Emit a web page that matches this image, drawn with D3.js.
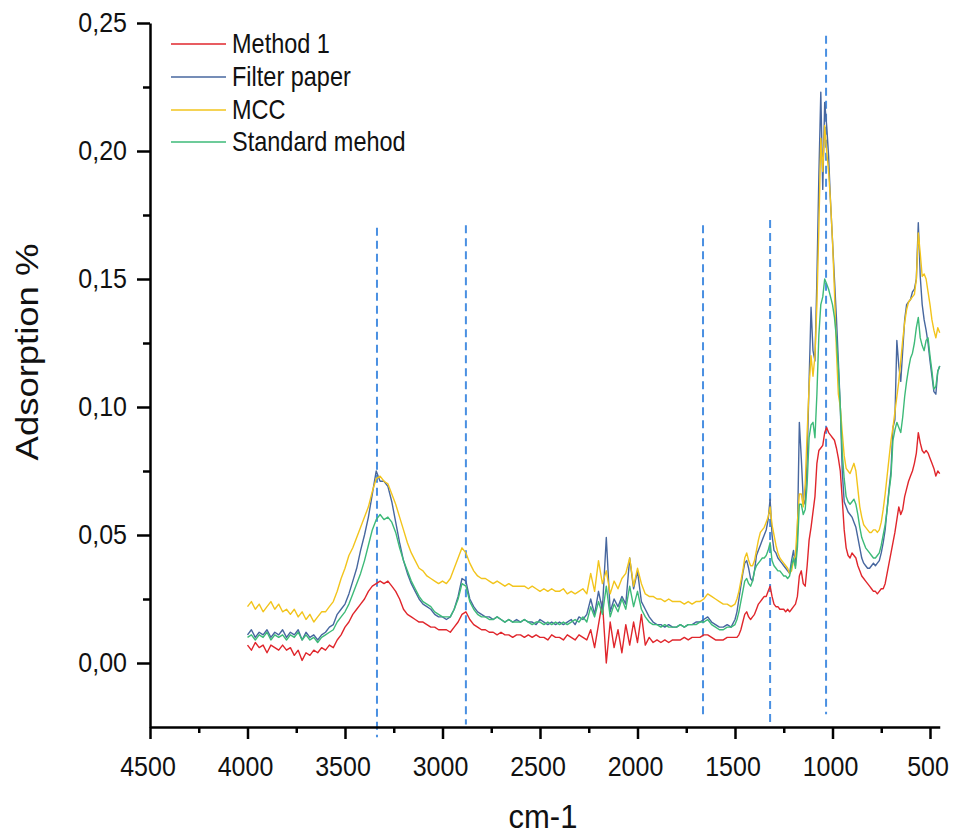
<!DOCTYPE html>
<html>
<head>
<meta charset="utf-8">
<script src="https://cdn.jsdelivr.net/npm/d3@7"></script>
<style>
  html, body { margin: 0; padding: 0; background: #fff; }
  svg { display: block; font-family: "Liberation Sans", Arial, sans-serif; }
</style>
</head>
<body>
<svg id="chart" width="953" height="835"></svg>
<script>
// ---------- DATA ----------
// wavenumber grid (cm-1): 4000..1520 every 20, then 1500..450 every 10
const wavenumbers = [...d3.range(4000, 1500, -20), ...d3.range(1500, 449, -10)];

const seriesNames = ["Method 1", "Filter paper", "MCC", "Standard mehod"];

const method1 = [
  0.007,0.005,0.008,0.006,0.007,0.004,0.007,0.006,0.005,0.007,
  0.005,0.006,0.003,0.005,0.001,0.004,0.003,0.005,0.004,0.006,
  0.005,0.007,0.006,0.009,0.011,0.014,0.016,0.019,0.021,0.023,
  0.025,0.028,0.030,0.031,0.032,0.031,0.032,0.030,0.028,0.025,
  0.021,0.019,0.018,0.017,0.016,0.016,0.015,0.014,0.014,0.013,
  0.013,0.013,0.012,0.014,0.016,0.019,0.020,0.017,0.015,0.014,
  0.013,0.013,0.012,0.012,0.011,0.012,0.011,0.011,0.010,0.011,
  0.011,0.010,0.011,0.010,0.011,0.010,0.010,0.009,0.011,0.010,
  0.010,0.009,0.011,0.010,0.009,0.011,0.010,0.009,0.013,0.006,
  0.015,0.024,0.000,0.016,0.006,0.013,0.004,0.015,0.007,0.016,
  0.008,0.019,0.007,0.010,0.008,0.009,0.008,0.009,0.008,0.009,
  0.009,0.009,0.010,0.009,0.010,0.010,0.010,0.011,0.011,0.010,
  0.009,0.009,0.009,0.010,0.010,
  0.010,0.010,0.011,0.013,0.016,0.019,0.020,0.018,0.017,0.018,
  0.019,0.021,0.023,0.024,0.025,0.026,0.026,0.028,0.030,0.026,
  0.023,0.022,0.022,0.021,0.021,0.021,0.020,0.021,0.020,0.021,
  0.022,0.023,0.026,0.034,0.036,0.031,0.030,0.038,0.048,0.053,
  0.059,0.065,0.078,0.083,0.084,0.085,0.090,0.092,0.090,0.089,
  0.088,0.087,0.084,0.080,0.075,0.064,0.052,0.045,0.042,0.041,
  0.043,0.042,0.041,0.038,0.036,0.034,0.033,0.032,0.031,0.030,
  0.029,0.028,0.028,0.027,0.028,0.029,0.029,0.031,0.035,0.039,
  0.043,0.047,0.051,0.056,0.061,0.058,0.060,0.065,0.068,0.071,
  0.073,0.075,0.078,0.082,0.090,0.086,0.083,0.082,0.083,0.082,
  0.080,0.078,0.076,0.073,0.075,0.074
];

const filterPaper = [
  0.011,0.013,0.010,0.012,0.011,0.013,0.010,0.012,0.011,0.013,
  0.010,0.012,0.011,0.013,0.009,0.012,0.010,0.011,0.009,0.011,
  0.012,0.014,0.015,0.019,0.021,0.023,0.027,0.032,0.037,0.044,
  0.050,0.057,0.066,0.075,0.071,0.071,0.069,0.063,0.055,0.047,
  0.040,0.035,0.031,0.028,0.025,0.023,0.022,0.021,0.019,0.018,
  0.018,0.017,0.018,0.021,0.026,0.033,0.032,0.025,0.022,0.020,
  0.019,0.018,0.018,0.017,0.018,0.017,0.016,0.017,0.016,0.017,
  0.016,0.017,0.016,0.016,0.015,0.017,0.016,0.015,0.016,0.015,
  0.016,0.015,0.016,0.017,0.015,0.018,0.017,0.019,0.025,0.019,
  0.028,0.021,0.049,0.020,0.025,0.022,0.026,0.023,0.041,0.029,
  0.036,0.024,0.021,0.018,0.016,0.015,0.015,0.014,0.015,0.014,
  0.014,0.015,0.014,0.015,0.015,0.016,0.016,0.017,0.018,0.016,
  0.015,0.014,0.014,0.015,0.014,
  0.017,0.020,0.025,0.030,0.035,0.039,0.040,0.037,0.033,0.032,
  0.036,0.042,0.044,0.046,0.048,0.050,0.052,0.056,0.064,0.050,
  0.044,0.043,0.041,0.040,0.039,0.038,0.037,0.036,0.035,0.040,
  0.044,0.038,0.050,0.094,0.080,0.064,0.062,0.080,0.110,0.139,
  0.122,0.118,0.150,0.190,0.223,0.185,0.219,0.210,0.198,0.180,
  0.165,0.150,0.135,0.118,0.100,0.075,0.063,0.061,0.059,0.058,
  0.057,0.055,0.053,0.049,0.045,0.041,0.039,0.038,0.037,0.037,
  0.038,0.039,0.038,0.039,0.040,0.043,0.047,0.052,0.060,0.068,
  0.075,0.092,0.095,0.126,0.116,0.110,0.122,0.134,0.140,0.141,
  0.142,0.145,0.146,0.150,0.172,0.151,0.140,0.134,0.130,0.125,
  0.118,0.112,0.106,0.105,0.114,0.116
];

const mcc = [
  0.022,0.024,0.021,0.023,0.020,0.022,0.024,0.021,0.023,0.020,
  0.021,0.019,0.021,0.018,0.020,0.017,0.019,0.016,0.018,0.020,
  0.020,0.022,0.024,0.028,0.033,0.037,0.042,0.045,0.049,0.053,
  0.057,0.061,0.067,0.072,0.073,0.071,0.070,0.066,0.062,0.057,
  0.052,0.047,0.043,0.040,0.037,0.036,0.034,0.033,0.032,0.031,
  0.032,0.031,0.033,0.037,0.041,0.045,0.043,0.039,0.036,0.034,
  0.033,0.033,0.032,0.031,0.032,0.031,0.030,0.031,0.030,0.030,
  0.030,0.030,0.029,0.030,0.029,0.028,0.029,0.028,0.029,0.028,
  0.028,0.029,0.027,0.028,0.027,0.028,0.029,0.027,0.035,0.028,
  0.040,0.031,0.036,0.027,0.032,0.029,0.033,0.035,0.041,0.030,
  0.037,0.031,0.027,0.026,0.026,0.025,0.025,0.024,0.025,0.024,
  0.024,0.024,0.023,0.024,0.023,0.024,0.024,0.025,0.027,0.026,
  0.025,0.024,0.023,0.023,0.022,
  0.023,0.025,0.028,0.032,0.036,0.041,0.043,0.040,0.038,0.038,
  0.040,0.044,0.048,0.051,0.052,0.053,0.055,0.057,0.061,0.054,
  0.050,0.046,0.043,0.041,0.040,0.039,0.038,0.037,0.035,0.036,
  0.040,0.042,0.055,0.066,0.066,0.061,0.070,0.090,0.108,0.120,
  0.112,0.120,0.140,0.170,0.205,0.192,0.210,0.200,0.192,0.180,
  0.165,0.145,0.122,0.105,0.100,0.090,0.081,0.076,0.075,0.074,
  0.076,0.078,0.075,0.068,0.061,0.057,0.054,0.053,0.052,0.051,
  0.051,0.052,0.052,0.051,0.052,0.055,0.060,0.066,0.073,0.080,
  0.087,0.092,0.098,0.104,0.110,0.118,0.126,0.133,0.138,0.141,
  0.142,0.143,0.144,0.150,0.168,0.160,0.151,0.152,0.150,0.145,
  0.140,0.134,0.130,0.127,0.131,0.129
];

const standardMethod = [
  0.010,0.011,0.009,0.011,0.010,0.012,0.009,0.011,0.010,0.011,
  0.009,0.011,0.010,0.012,0.009,0.011,0.009,0.010,0.008,0.010,
  0.011,0.012,0.013,0.016,0.018,0.020,0.023,0.027,0.031,0.035,
  0.040,0.046,0.052,0.056,0.058,0.056,0.057,0.055,0.051,0.045,
  0.040,0.036,0.032,0.029,0.026,0.024,0.023,0.022,0.020,0.019,
  0.018,0.018,0.018,0.021,0.025,0.031,0.030,0.024,0.021,0.019,
  0.018,0.018,0.017,0.017,0.018,0.017,0.016,0.017,0.016,0.016,
  0.016,0.017,0.016,0.015,0.016,0.016,0.015,0.016,0.015,0.016,
  0.015,0.016,0.015,0.016,0.017,0.016,0.018,0.016,0.022,0.018,
  0.024,0.019,0.030,0.018,0.023,0.020,0.025,0.021,0.030,0.022,
  0.028,0.021,0.018,0.016,0.015,0.015,0.014,0.015,0.014,0.014,
  0.014,0.015,0.014,0.015,0.015,0.015,0.016,0.016,0.017,0.015,
  0.014,0.013,0.013,0.014,0.014,
  0.015,0.017,0.020,0.024,0.028,0.032,0.033,0.031,0.030,0.032,
  0.036,0.038,0.039,0.040,0.041,0.041,0.042,0.044,0.047,0.040,
  0.038,0.037,0.036,0.036,0.035,0.034,0.034,0.033,0.034,0.038,
  0.041,0.037,0.045,0.062,0.062,0.058,0.060,0.070,0.088,0.093,
  0.094,0.088,0.105,0.128,0.140,0.143,0.150,0.148,0.146,0.143,
  0.140,0.135,0.127,0.115,0.100,0.082,0.072,0.065,0.063,0.062,
  0.063,0.064,0.062,0.058,0.053,0.049,0.047,0.045,0.044,0.043,
  0.042,0.041,0.041,0.042,0.043,0.046,0.050,0.054,0.060,0.067,
  0.073,0.087,0.091,0.094,0.092,0.090,0.096,0.104,0.110,0.115,
  0.119,0.121,0.125,0.131,0.135,0.127,0.124,0.122,0.126,0.127,
  0.120,0.114,0.107,0.108,0.114,0.116
];

const seriesValues = [method1, filterPaper, mcc, standardMethod];
const seriesColors = ["#e0262c", "#47679f", "#f2c41c", "#3dba78"];

// dashed marker lines (wavenumber, top value, bottom value)
const markerWavenumbers = [3336, 2880, 1664, 1320, 1033];
const markerTops = [0.170, 0.171, 0.171, 0.173, 0.245];
const markerBottoms = [-0.029, -0.024, -0.022, -0.023, -0.020];

const xTickValues = [4500, 4000, 3500, 3000, 2500, 2000, 1500, 1000, 500];
const xMinorTicks = [4250, 3750, 3250, 2750, 2250, 1750, 1250, 750];
const yTickValues = [0, 0.05, 0.10, 0.15, 0.20, 0.25];
const yMinorTicks = [0.025, 0.075, 0.125, 0.175, 0.225];

// ---------- DRAW ----------
const svg = d3.select("#chart");
const x = d3.scaleLinear().domain([4500, 450]).range([150, 939.75]);
const y = d3.scaleLinear().domain([-0.025, 0.25]).range([727, 23]);
const SY = 1.14; // vertical text stretch of the original

const comma = v => d3.format(".2f")(v).replace(".", ",");

// dashed markers
svg.append("g").selectAll("line").data(markerWavenumbers).join("line")
  .attr("x1", d => x(d)).attr("x2", d => x(d))
  .attr("y1", (d, i) => y(markerTops[i])).attr("y2", (d, i) => y(markerBottoms[i]))
  .attr("stroke", "#4a90e2").attr("stroke-width", 2)
  .attr("stroke-dasharray", "8,5");

// series
const line = d3.line().x(d => x(d[0])).y(d => y(d[1]));
seriesValues.forEach((vals, i) => {
  const pts = wavenumbers.map((w, k) => [w, vals[k]]).filter(p => p[1] !== undefined);
  svg.append("path").datum(pts)
    .attr("d", line).attr("fill", "none")
    .attr("stroke", seriesColors[i]).attr("stroke-width", 1.4)
    .attr("stroke-linejoin", "round");
});

// axes
svg.append("g").attr("transform", "translate(150,0)")
  .call(d3.axisLeft(y).tickValues(yTickValues).tickSize(13).tickSizeOuter(0).tickFormat(""));
const yMinor = svg.append("g").attr("transform", "translate(150,0)")
  .call(d3.axisLeft(y).tickValues(yMinorTicks).tickSize(7).tickSizeOuter(0).tickFormat(""));
yMinor.select(".domain").remove();

svg.append("g").attr("transform", "translate(0,727)")
  .call(d3.axisBottom(x).tickValues(xTickValues).tickSize(12).tickSizeOuter(0).tickFormat(""));
const xMinor = svg.append("g").attr("transform", "translate(0,727)")
  .call(d3.axisBottom(x).tickValues(xMinorTicks).tickSize(6).tickSizeOuter(0).tickFormat(""));
xMinor.select(".domain").remove();

svg.selectAll(".domain").attr("stroke", "#000").attr("stroke-width", 2.5);
svg.selectAll(".tick line").attr("stroke", "#000").attr("stroke-width", 2.5);

// tick labels (stretched vertically like the original)
svg.append("g").selectAll("text").data(yTickValues).join("text")
  .attr("transform", d => `translate(127,${y(d) + 9}) scale(1,${SY})`)
  .attr("text-anchor", "end").attr("font-size", 25).attr("fill", "#111")
  .text(d => comma(d));

svg.append("g").selectAll("text").data(xTickValues).join("text")
  .attr("transform", d => `translate(${x(d) - 2},776) scale(1,${SY})`)
  .attr("text-anchor", "middle").attr("font-size", 25).attr("fill", "#111")
  .text(d => d);

// axis titles
svg.append("text")
  .attr("transform", `translate(543,828) scale(1,1.05)`)
  .attr("text-anchor", "middle").attr("font-size", 31).attr("fill", "#111")
  .text("cm-1");
svg.append("text")
  .attr("transform", `translate(38,352) rotate(-90) scale(${SY},1)`)
  .attr("text-anchor", "middle").attr("font-size", 32).attr("fill", "#111")
  .text("Adsorption %");

// legend
const legendY = [44, 77, 110, 142];
const legend = svg.append("g").selectAll("g").data(seriesNames).join("g");
legend.append("line")
  .attr("x1", 171).attr("x2", 226)
  .attr("y1", (d, i) => legendY[i]).attr("y2", (d, i) => legendY[i])
  .attr("stroke", (d, i) => seriesColors[i]).attr("stroke-width", 1.6);
legend.append("text")
  .attr("transform", (d, i) => `translate(232,${legendY[i] + 9}) scale(1,${SY})`)
  .attr("font-size", 23.5).attr("fill", "#111")
  .text(d => d);
</script>
</body>
</html>
